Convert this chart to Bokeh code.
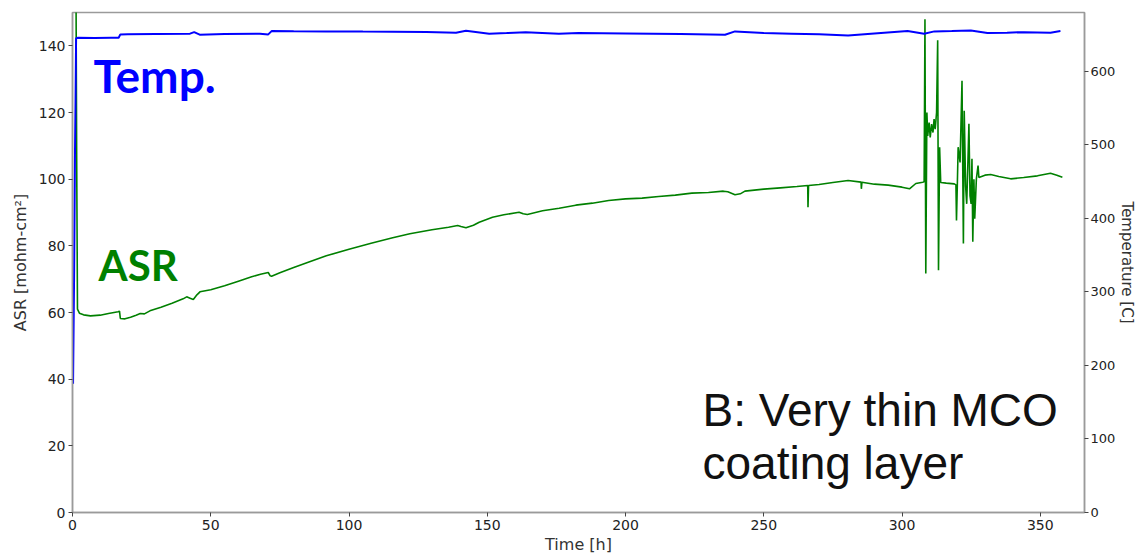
from bokeh.plotting import figure
from bokeh.models import Range1d, LinearAxis, Label, FixedTicker
from bokeh.embed import file_html
from bokeh.resources import INLINE

# ---- data ----
time_asr = [0.8, 1.3, 1.5, 1.8, 2.5, 4, 6.5, 10, 13, 16.5, 17.0, 17.3, 19, 21, 23, 24.5, 26, 28, 32, 36,
            40, 41.3, 42.5, 43.7, 45, 46.1, 50, 55, 60, 64.8, 68, 70.8, 71.5, 72, 75, 80, 85, 91.8, 100,
            108, 115.8, 122, 130, 136, 139.3, 140.5, 142.3, 145, 147.1, 151.9, 156, 161.5, 163, 164.5,
            170, 176, 182, 188, 193.9, 200, 206, 212, 218, 224, 230, 235.4, 237, 239.6, 241.5, 243.2,
            250, 256, 262, 265.9, 266.0, 266.2, 270, 275, 280.5, 285.2, 285.3, 285.5, 290, 295, 300,
            302.7, 305, 307.5, 308.0, 308.3, 308.6, 309.0, 309.3, 309.8, 310.2, 310.7, 311.2, 311.6,
            312.0, 312.5, 312.9, 313.2, 313.6, 314.0, 316, 318.9, 319.5, 319.7, 320.0, 320.3, 321.0,
            321.7, 322.2, 322.5, 323.0, 323.4, 323.8, 324.2, 324.6, 325.0, 325.3, 325.6, 326.0, 326.3,
            326.9, 327.5, 327.8, 330, 332.1, 335, 339.3, 344, 349, 353.7, 356, 358]
asr = [900, 150, 108, 61, 59.8, 59.3, 59.0, 59.2, 59.7, 60.2, 60.4, 58.2, 58.1, 58.6, 59.2, 59.7, 59.6,
       60.5, 61.6, 62.8, 64.1, 64.7, 64.3, 63.9, 65.3, 66.2, 66.8, 68.0, 69.4, 70.7, 71.5, 72.0, 71.0,
       70.9, 71.9, 73.5, 75.0, 77.0, 79.0, 80.8, 82.4, 83.6, 84.8, 85.6, 86.1, 85.8, 85.4, 86.2, 87.1,
       88.6, 89.3, 90.1, 89.6, 89.4, 90.5, 91.3, 92.2, 92.8, 93.6, 94.1, 94.3, 94.8, 95.2, 95.8, 96.0,
       96.4, 96.2, 95.3, 95.6, 96.4, 97.0, 97.4, 97.8, 98.1, 91.6, 98.1, 98.4, 99.0, 99.6, 99.1, 97.1,
       99.1, 98.5, 98.2, 97.6, 97.1, 98.7, 99.1, 99.2, 148, 71.7, 120, 113, 117, 112.5, 116.5, 114,
       118, 115, 120, 141.7, 72.7, 109.6, 99, 98.8, 98.6, 98.3, 87.6, 98, 109.6, 105, 129.5, 80.7,
       120.5, 98, 92.6, 104, 116.6, 95, 92.6, 106.1, 81.2, 100, 88.1, 100.1, 104.1, 100.5, 101.2,
       101.4, 100.8, 100.1, 100.5, 101.0, 101.8, 101.2, 100.6]

time_temp = [0.2, 0.6, 0.9, 1.1, 1.3, 2, 8, 14, 16.7, 17.3, 20, 30, 42.5, 44, 46, 55, 67.8, 70.8, 72,
             80, 91.8, 105, 115.8, 128, 138.7, 142.3, 150.7, 157, 163.9, 175.9, 183, 200, 220, 236,
             239.6, 250, 260, 270, 280.5, 290, 302, 308, 311.7, 318, 324.9, 330.9, 338, 344.1, 353.7,
             357.3]
temp = [175, 330, 490, 560, 645, 645.7, 645.4, 645.6, 645.7, 650.2, 650.4, 650.8, 651.2, 653.3, 649.9,
        650.6, 651.2, 650.2, 654.7, 654.5, 654.3, 654.0, 653.9, 653.4, 652.5, 655.2, 651.2, 652.0,
        653.3, 651.2, 652.0, 651.4, 650.8, 649.8, 654.3, 652.0, 651.2, 650.4, 648.8, 651.5, 654.7,
        651.2, 654.3, 654.8, 655.6, 652.0, 652.6, 653.3, 652.6, 654.7]

x_ticks = [0, 50, 100, 150, 200, 250, 300, 350]
asr_ticks = [0, 20, 40, 60, 80, 100, 120, 140]
temp_ticks = [0, 100, 200, 300, 400, 500, 600]

p = figure(width=1139, height=556, output_backend="svg", toolbar_location=None,
           x_range=Range1d(0, 366), y_range=Range1d(0, 150),
           min_border_left=72, min_border_right=54, min_border_top=12, min_border_bottom=43,
           background_fill_color="white", border_fill_color="white")
p.extra_y_ranges = {"temp": Range1d(0, 680)}

p.xgrid.visible = False
p.ygrid.visible = False
p.outline_line_color = "#9a9a9a"
p.outline_line_width = 1.5

p.line(time_asr, asr, line_color="#008000", line_width=1.6)
p.line(time_temp, temp, line_color="#0000ff", line_width=2, y_range_name="temp")

right = LinearAxis(y_range_name="temp", axis_label="Temperature [C]")
p.add_layout(right, "right")

for ax in [p.xaxis[0], p.yaxis[0], right]:
    ax.major_tick_in = 0
    ax.major_tick_out = 4
    ax.minor_tick_line_color = None
    ax.axis_line_color = "#9a9a9a"
    ax.axis_line_width = 1.5
    ax.major_tick_line_color = "#444444"
    ax.major_label_text_font = "DejaVu Sans"
    ax.major_label_text_font_size = "14px"
    ax.major_label_text_color = "#222222"
    ax.axis_label_text_font = "DejaVu Sans"
    ax.axis_label_text_font_size = "16px"
    ax.axis_label_text_font_style = "normal"
    ax.axis_label_text_color = "#333333"
    ax.major_label_standoff = 3
    ax.axis_label_standoff = 4

p.xaxis[0].ticker = FixedTicker(ticks=x_ticks)
p.xaxis[0].axis_label = "Time [h]"
p.xaxis[0].axis_label_standoff = 2
p.yaxis[0].ticker = FixedTicker(ticks=asr_ticks)
p.yaxis[0].axis_label = "ASR [mohm-cm\u00b2]"
p.yaxis[0].axis_label_standoff = 6
right.ticker = FixedTicker(ticks=temp_ticks)
right.major_label_text_font_size = "13px"
right.major_label_standoff = 2
right.axis_label_standoff = 0
right.axis_label_text_font_size = "15px"

p.add_layout(Label(x=21, y=437, x_units="screen", y_units="screen", text="Temp.",
                   text_font="Lato", text_font_style="bold", text_font_size="46px",
                   text_color="#0000ff", text_baseline="alphabetic"))
p.add_layout(Label(x=26, y=248, x_units="screen", y_units="screen", text="ASR",
                   text_font="Lato", text_font_style="bold", text_font_size="42px",
                   text_color="#008000", text_baseline="alphabetic"))
p.add_layout(Label(x=630, y=103, x_units="screen", y_units="screen", text="B: Very thin MCO",
                   text_font="Liberation Sans", text_font_size="46px",
                   text_color="#111111", text_baseline="alphabetic"))
p.add_layout(Label(x=630, y=50, x_units="screen", y_units="screen", text="coating layer",
                   text_font="Liberation Sans", text_font_size="46px",
                   text_color="#111111", text_baseline="alphabetic"))

open("out.html", "w").write(file_html(p, INLINE))
